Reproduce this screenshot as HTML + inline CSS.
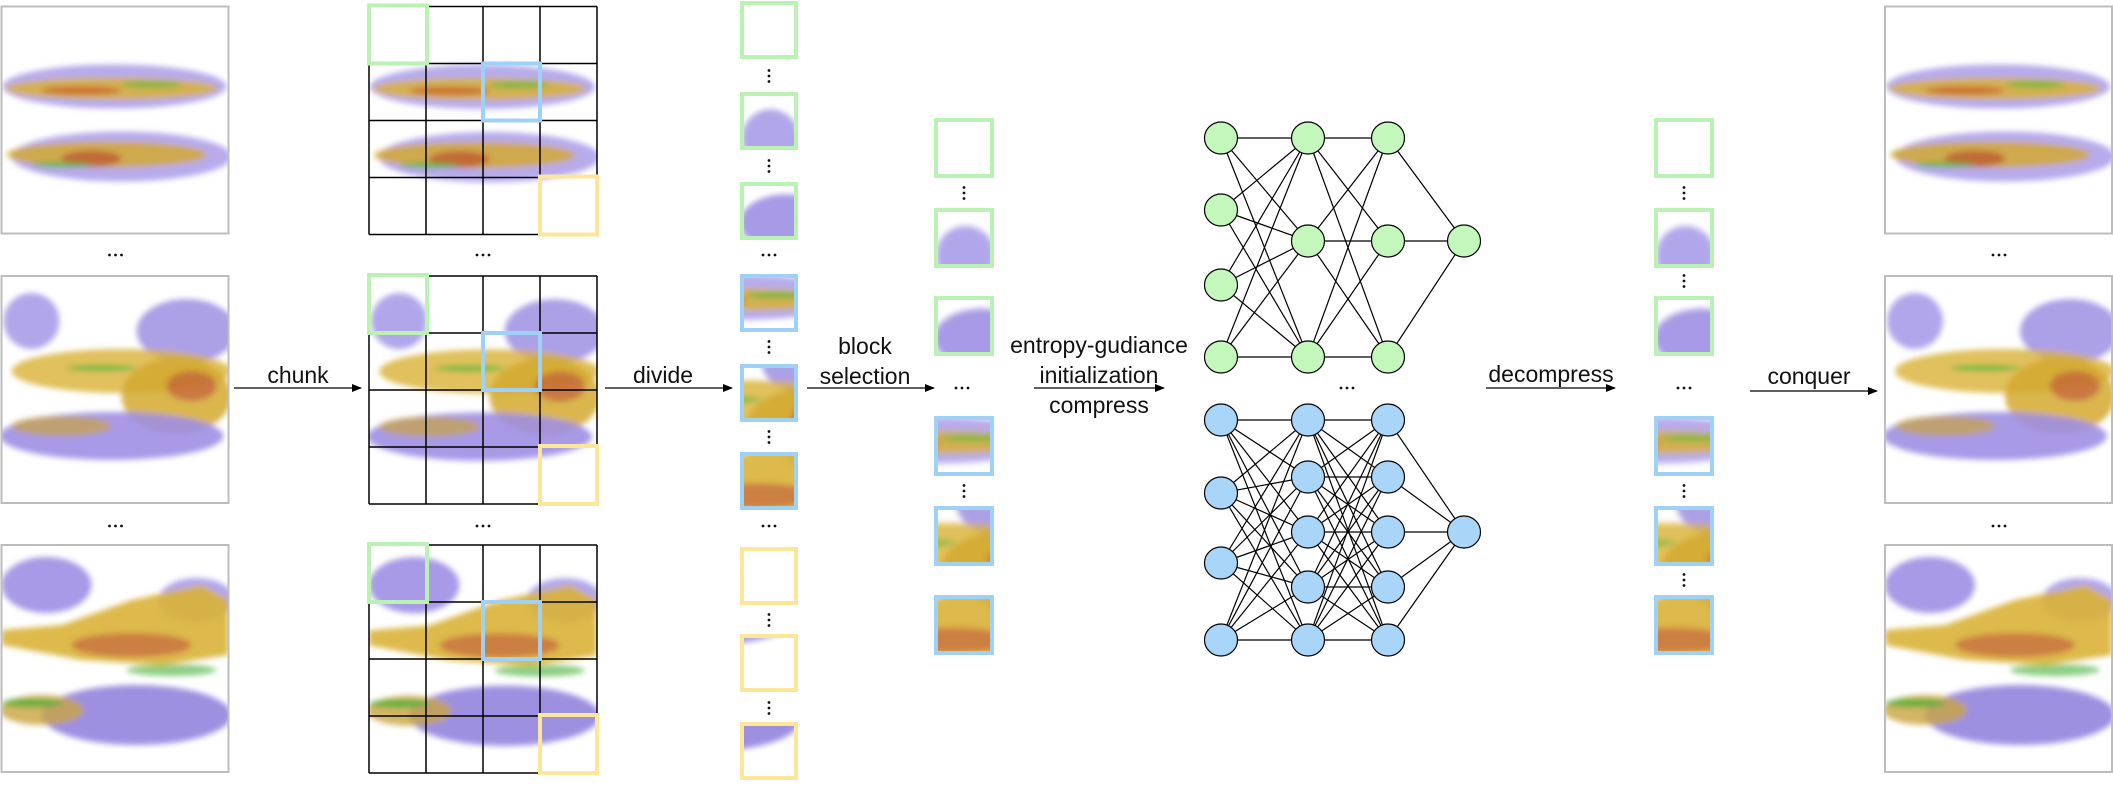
<!DOCTYPE html>
<html><head><meta charset="utf-8"><style>
html,body{margin:0;padding:0;background:#fff}
svg text{font-family:"Liberation Sans",Arial,sans-serif;fill:#111}
</style></head><body>
<svg id="s" xmlns="http://www.w3.org/2000/svg" width="2113" height="784" viewBox="0 0 2113 784">
<defs>
<filter id="bl" x="-20%" y="-20%" width="140%" height="140%"><feGaussianBlur stdDeviation="3"/></filter>
<marker id="ar" markerWidth="10" markerHeight="8" refX="9" refY="4" orient="auto" markerUnits="userSpaceOnUse"><path d="M0,0 L10,4 L0,8 z" fill="#000"/></marker>
<g id="imgA"><g filter="url(#bl)">
<ellipse cx="113" cy="80" rx="112" ry="22" fill="#a596e6" opacity=".8"/>
<ellipse cx="110" cy="82" rx="106" ry="11" fill="#d9b236" opacity=".85"/>
<ellipse cx="80" cy="84" rx="40" ry="4" fill="#c8542a" opacity=".7"/>
<ellipse cx="150" cy="78" rx="30" ry="3" fill="#4fb83c" opacity=".7"/>
<ellipse cx="120" cy="150" rx="110" ry="25" fill="#a596e6" opacity=".8"/>
<ellipse cx="105" cy="148" rx="100" ry="13" fill="#d4a930" opacity=".85"/>
<ellipse cx="90" cy="152" rx="30" ry="8" fill="#b8402a" opacity=".6"/>
<ellipse cx="60" cy="158" rx="30" ry="3" fill="#4fb83c" opacity=".7"/>
</g></g>
<g id="imgB"><g filter="url(#bl)">
<ellipse cx="30" cy="45" rx="28" ry="28" fill="#a596e6" opacity=".85"/>
<ellipse cx="185" cy="55" rx="50" ry="32" fill="#9e8fe3" opacity=".85"/>
<ellipse cx="120" cy="95" rx="110" ry="22" fill="#d9b236" opacity=".8"/>
<ellipse cx="175" cy="120" rx="55" ry="38" fill="#d4a930" opacity=".85"/>
<ellipse cx="190" cy="110" rx="25" ry="15" fill="#c0503a" opacity=".6"/>
<ellipse cx="110" cy="160" rx="112" ry="24" fill="#9e8fe3" opacity=".9"/>
<ellipse cx="60" cy="150" rx="50" ry="10" fill="#c9a440" opacity=".7"/>
<ellipse cx="100" cy="92" rx="35" ry="3" fill="#4fb83c" opacity=".8"/>
</g></g>
<g id="imgC"><g filter="url(#bl)">
<ellipse cx="45" cy="40" rx="45" ry="28" fill="#9e8fe3" opacity=".9"/>
<ellipse cx="195" cy="55" rx="38" ry="22" fill="#a596e6" opacity=".85"/>
<polygon points="0,85 60,80 130,55 200,40 227,55 227,110 160,120 80,115 0,100" fill="#d9b236" opacity=".9"/>
<ellipse cx="130" cy="100" rx="60" ry="12" fill="#c0503a" opacity=".55"/>
<ellipse cx="135" cy="170" rx="95" ry="30" fill="#9384dd" opacity=".9"/>
<ellipse cx="40" cy="165" rx="42" ry="15" fill="#c9a440" opacity=".8"/>
<ellipse cx="30" cy="158" rx="30" ry="4" fill="#3fae34" opacity=".8"/>
<ellipse cx="170" cy="125" rx="45" ry="6" fill="#3fae34" opacity=".6"/>
</g></g>
</defs>
<g id="main" stroke-linecap="butt"></g>
</svg>
<script>
const NS="http://www.w3.org/2000/svg",m=document.getElementById('main');
function el(t,a,p){const e=document.createElementNS(NS,t);for(const k in a)e.setAttribute(k,a[k]);(p||m).appendChild(e);return e;}
function txt(x,y,s,sz){const t=el('text',{x:x,y:y,'font-size':sz||23,'text-anchor':'middle'});t.textContent=s;}
function hdots(cx,cy){for(let i=-1;i<=1;i++)el('circle',{cx:cx+i*6,cy:cy,r:1.4,fill:'#111'});}
function vdots(cx,cy){for(let i=-1;i<=1;i++)el('circle',{cx:cx,cy:cy+i*5.5,r:1.4,fill:'#111'});}
function img(id,x,y,w){const s=el('svg',{x:x,y:y,width:w,height:w,viewBox:'0 0 227 227'});el('use',{href:'#'+id},s);}
const ys=[6.5,276,545],ids=['imgA','imgB','imgC'];
[1.5,1885].forEach(x=>{ys.forEach((y,i)=>{img(ids[i],x,y,227);el('rect',{x:x,y:y,width:227,height:227,fill:'none',stroke:'#bdbdbd','stroke-width':2});});hdots(x+114,255);hdots(x+114,526);});
const gx=369,c=57;
ys.forEach((y,i)=>{img(ids[i],gx,y,228);
 for(let k=0;k<=4;k++){el('line',{x1:gx+k*c,y1:y,x2:gx+k*c,y2:y+228,stroke:'#000','stroke-width':1.5});el('line',{x1:gx,y1:y+k*c,x2:gx+228,y2:y+k*c,stroke:'#000','stroke-width':1.5});}
 el('rect',{x:gx,y:y-1,width:58,height:58,fill:'none',stroke:'#b9f2b3','stroke-width':4});
 el('rect',{x:gx+114,y:y+57,width:57,height:57,fill:'none',stroke:'#9fd0f5','stroke-width':4});
 el('rect',{x:gx+171,y:y+170,width:57,height:58,fill:'none',stroke:'#fbe69a','stroke-width':4});
});
hdots(483,255);hdots(483,526);
const col={g:'#b9f2b3',b:'#9fd0f5',y:'#fbe69a'},cell={g:[0,0],b:[2,1],y:[3,3]};
function block(x,y,s,kind,imgi){const cc=cell[kind];const sv=el('svg',{x:x,y:y,width:s,height:s,viewBox:(cc[0]*57)+' '+(cc[1]*57)+' 57 57'});el('use',{href:'#'+ids[imgi]},sv);
 el('rect',{x:x+2,y:y+2,width:s-4,height:s-4,fill:'none',stroke:col[kind],'stroke-width':4});}
const c1=[[1,'g',0],[92,'g',1],[182,'g',2],[274,'b',0],[364,'b',1],[452,'b',2],[547,'y',0],[634,'y',1],[722,'y',2]];
c1.forEach(r=>block(740,r[0],58,r[1],r[2]));
[76,166,347,437,620,708].forEach(y=>vdots(769,y));hdots(769,255);hdots(769,526);
const c2=[[118,'g',0],[208,'g',1],[296,'g',2],[416,'b',0],[506,'b',1],[595,'b',2]];
c2.forEach(r=>{block(934,r[0],60,r[1],r[2]);block(1654,r[0],60,r[1],r[2]);});
[193,491].forEach(y=>vdots(964,y));[193,281,491,580].forEach(y=>vdots(1684,y));
hdots(962,388);hdots(1684,388);
function arr(x1,x2,y){el('line',{x1:x1,y1:y,x2:x2,y2:y,stroke:'#000','stroke-width':1.3,'marker-end':'url(#ar)'});}
arr(234,361,388);txt(298,383,'chunk');
arr(605,732,388);txt(663,383,'divide');
arr(807,934,388);txt(865,354,'block');txt(865,384,'selection');
arr(1034,1164,388);txt(1099,353,'entropy-gudiance');txt(1099,383,'initialization');txt(1099,413,'compress');
arr(1486,1615,388);txt(1551,382,'decompress');
arr(1750,1877,391);txt(1809,384,'conquer');
const X=[1221,1308,1388,1464];
function nn(L,fill){for(let l=0;l<3;l++)for(const a of L[l])for(const b of L[l+1])el('line',{x1:X[l],y1:a,x2:X[l+1],y2:b,stroke:'#000','stroke-width':1.2});
 L.forEach((ls,l)=>ls.forEach(y=>el('ellipse',{cx:X[l],cy:y,rx:16.5,ry:16,fill:fill,stroke:'#000','stroke-width':1.2})));}
nn([[138,210,285,357],[138,241,357],[138,241,357],[241]],'#c4f7bc');
nn([[420,493,563,640],[420,477,532,587,640],[420,477,532,587,640],[532]],'#a9d6f8');
hdots(1347,388);
</script>
</body></html>
